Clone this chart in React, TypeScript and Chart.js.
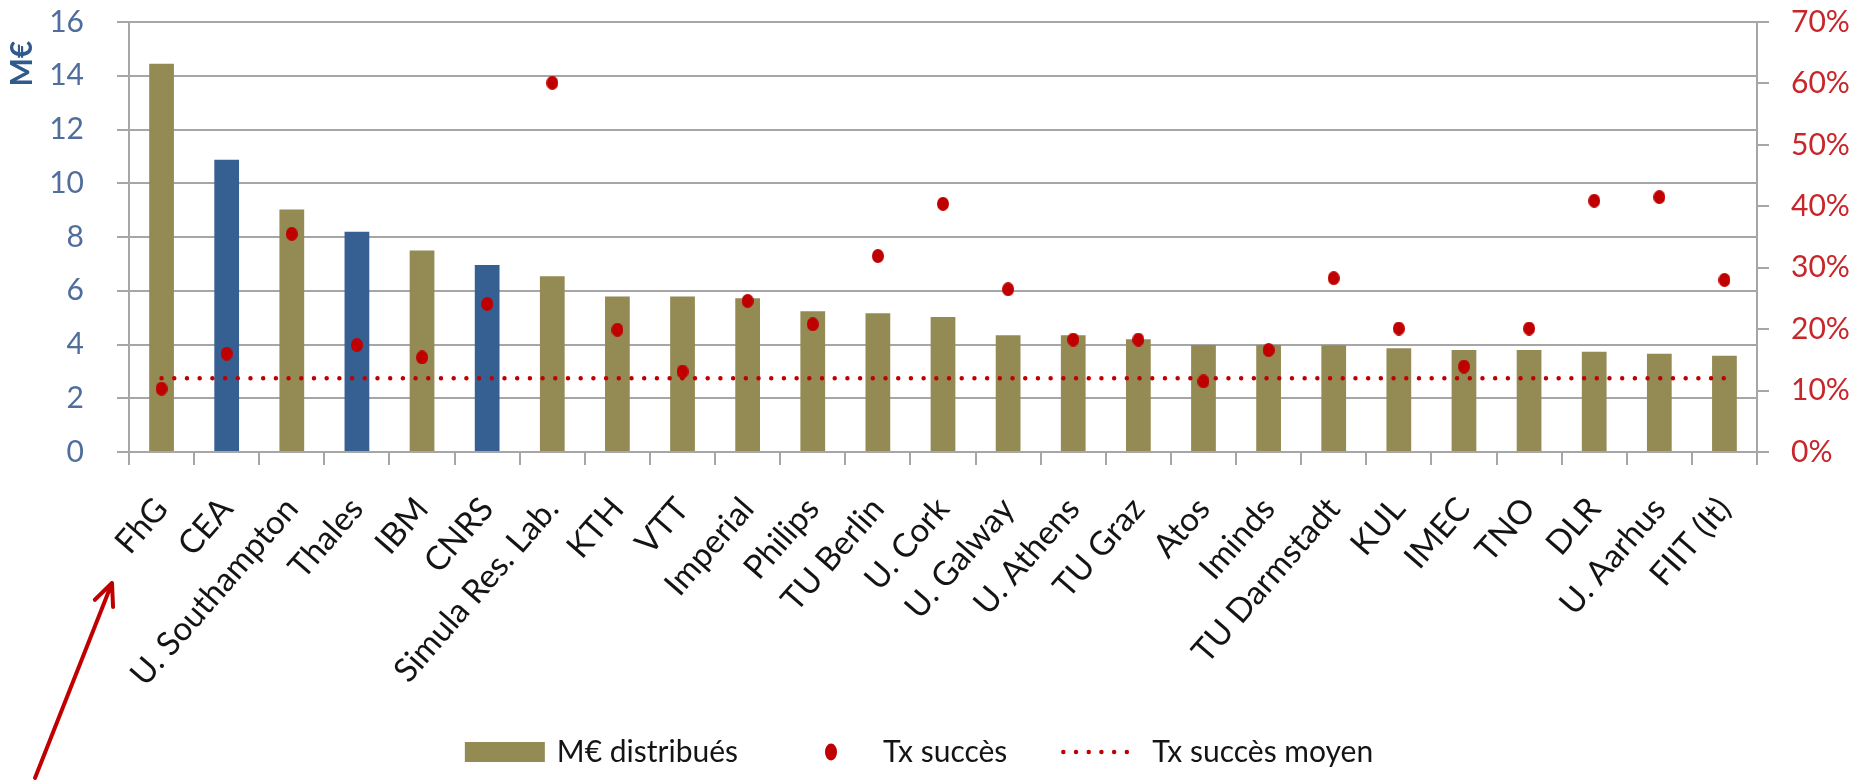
import React, { useEffect, useRef } from 'react';
import { Chart, registerables } from 'chart.js';

Chart.register(...registerables);

// ---------- data ----------
const categories = [
  'FhG', 'CEA', 'U. Southampton', 'Thales', 'IBM', 'CNRS', 'Simula Res. Lab.', 'KTH', 'VTT',
  'Imperial', 'Philips', 'TU Berlin', 'U. Cork', 'U. Galway', 'U. Athens', 'TU Graz', 'Atos',
  'Iminds', 'TU Darmstadt', 'KUL', 'IMEC', 'TNO', 'DLR', 'U. Aarhus', 'FIIT (It)',
];
const fundsMEur = [
  14.45, 10.87, 9.02, 8.2, 7.5, 6.96, 6.54, 5.79, 5.79,
  5.72, 5.24, 5.16, 5.02, 4.34, 4.34, 4.2, 3.98,
  3.98, 3.97, 3.86, 3.8, 3.8, 3.73, 3.66, 3.58,
];
const successRatePct = [
  10.3, 16.0, 35.5, 17.4, 15.4, 24.1, 60.1, 19.9, 13.1,
  24.6, 20.8, 31.9, 40.4, 26.5, 18.3, 18.3, 11.5,
  16.6, 28.3, 20.1, 13.9, 20.1, 40.9, 41.5, 28.0,
];
const averageSuccessRatePct = 12.0;
const highlightedOrgs = ['CEA', 'Thales', 'CNRS'];

const leftAxisMax = 16;
const leftAxisStep = 2;
const rightAxisMax = 70;
const rightAxisStep = 10;

const seriesLabels = ['M€ distribués', 'Tx succès', 'Tx succès moyen'];
const leftAxisTitle = 'M€';

// ---------- styles ----------
const OLIVE = '#948A54';
const BLUE = '#376092';
const RED = '#C00000';
const GRID = '#A6A6A6';
const LEFT_TICK = '#4F6E9C';
const TITLE_BLUE = '#2F5A8C';
const RIGHT_TICK = '#C8262A';
const FONT = 'Lato';

function makeEllipse(w: number, h: number, color: string): HTMLCanvasElement {
  const c = document.createElement('canvas');
  c.width = w;
  c.height = h;
  const g = c.getContext('2d')!;
  g.fillStyle = color;
  g.beginPath();
  g.ellipse(w / 2, h / 2, w / 2, h / 2, 0, 0, Math.PI * 2);
  g.fill();
  return c;
}

const legendPlugin = {
  id: 'customLegend',
  afterDraw(chart: any) {
    const ctx = chart.ctx as CanvasRenderingContext2D;
    const ds = chart.data.datasets;
    const iconW = 80;
    const textGap = 12;
    const spacing = 53;
    ctx.save();
    ctx.font = `30px ${FONT}`;
    const widths = ds.map((d: any) => ctx.measureText(d.label).width);
    const total = widths.reduce((a: number, w: number) => a + iconW + textGap + w, 0) + spacing * (ds.length - 1);
    let x = chart.width / 2 - total / 2 - 6;
    const cy = chart.height - 29;
    ds.forEach((d: any, i: number) => {
      if (d.legendKind === 'box') {
        ctx.fillStyle = OLIVE;
        ctx.fillRect(x, cy - 10, iconW, 20);
      } else if (d.legendKind === 'dot') {
        ctx.fillStyle = d.borderColor;
        ctx.beginPath();
        ctx.ellipse(x + iconW / 2, cy, 6, 8.5, 0, 0, Math.PI * 2);
        ctx.fill();
      } else {
        ctx.strokeStyle = d.borderColor;
        ctx.lineWidth = d.borderWidth;
        ctx.lineCap = 'round';
        ctx.setLineDash(d.borderDash);
        ctx.beginPath();
        ctx.moveTo(x + 3, cy);
        ctx.lineTo(x + iconW - 2, cy);
        ctx.stroke();
        ctx.setLineDash([]);
      }
      ctx.fillStyle = '#141414';
      ctx.textBaseline = 'middle';
      ctx.textAlign = 'left';
      ctx.fillText(d.label, x + iconW + textGap, cy);
      x += iconW + textGap + widths[i] + spacing;
    });
    ctx.restore();
  },
};

const arrowPlugin = {
  id: 'arrowNote',
  afterDraw(chart: any) {
    const ctx = chart.ctx as CanvasRenderingContext2D;
    const area = chart.chartArea;
    const tipX = area.left - 17;
    const tipY = area.bottom + 131;
    const tailX = area.left - 94;
    const tailY = chart.height - 3;
    const ang = Math.atan2(tipY - tailY, tipX - tailX);
    const wing = 24;
    const spread = 0.42;
    ctx.save();
    ctx.strokeStyle = RED;
    ctx.lineWidth = 4;
    ctx.lineCap = 'round';
    ctx.lineJoin = 'round';
    ctx.beginPath();
    ctx.moveTo(tailX, tailY);
    ctx.lineTo(tipX, tipY);
    ctx.moveTo(tipX - wing * Math.cos(ang - spread), tipY - wing * Math.sin(ang - spread));
    ctx.lineTo(tipX, tipY);
    ctx.lineTo(tipX - wing * Math.cos(ang + spread), tipY - wing * Math.sin(ang + spread));
    ctx.stroke();
    ctx.restore();
  },
};

export default function App() {
  const ref = useRef<HTMLCanvasElement | null>(null);

  useEffect(() => {
    document.body.style.margin = '0';
    const canvas = ref.current;
    if (!canvas) return;
    const dot = makeEllipse(12, 14, RED);
    const chart = new Chart(canvas, {
      type: 'bar',
      data: {
        labels: categories,
        datasets: [
          {
            type: 'bar',
            label: seriesLabels[0],
            data: fundsMEur,
            yAxisID: 'y',
            backgroundColor: categories.map((c) => (highlightedOrgs.includes(c) ? BLUE : OLIVE)),
            barPercentage: 0.38,
            categoryPercentage: 1,
            order: 3,
            legendKind: 'box',
          } as any,
          {
            type: 'line',
            label: seriesLabels[1],
            data: successRatePct,
            yAxisID: 'y1',
            showLine: false,
            pointStyle: dot,
            pointRadius: 7,
            backgroundColor: RED,
            borderColor: RED,
            order: 1,
            legendKind: 'dot',
          } as any,
          {
            type: 'line',
            label: seriesLabels[2],
            data: categories.map(() => averageSuccessRatePct),
            yAxisID: 'y1',
            borderColor: RED,
            borderWidth: 4.5,
            borderDash: [0.001, 12.7],
            borderCapStyle: 'round',
            pointRadius: 0,
            fill: false,
            order: 2,
            legendKind: 'line',
          } as any,
        ],
      },
      options: {
        responsive: false,
        maintainAspectRatio: false,
        animation: false,
        events: [],
        layout: { padding: { top: 22, left: 0, right: 0, bottom: 0 } },
        plugins: { legend: { display: false }, tooltip: { enabled: false } },
        scales: {
          x: {
            grid: { display: true, drawOnChartArea: false, drawTicks: true, tickLength: 13, color: GRID, lineWidth: 2, offset: true },
            border: { display: true, color: GRID, width: 2 },
            ticks: {
              autoSkip: false,
              minRotation: 49,
              maxRotation: 49,
              padding: 25,
              color: '#141414',
              font: { family: FONT, size: 33 },
            },
            afterFit: (s: any) => { s.height = 329; },
          },
          y: {
            position: 'left',
            min: 0,
            max: leftAxisMax,
            ticks: { stepSize: leftAxisStep, padding: 33, color: LEFT_TICK, font: { family: FONT, size: 30 } },
            grid: { color: GRID, lineWidth: 2, drawTicks: true, tickLength: 12 },
            border: { display: true, color: GRID, width: 2 },
            title: {
              display: true,
              text: leftAxisTitle + '\u2002\u2009',
              align: 'end',
              color: TITLE_BLUE,
              font: { family: FONT, size: 30, weight: 'bold' },
              padding: { top: 4, bottom: 0 },
            },
            afterFit: (s: any) => { s.width = 129; s.paddingTop = 0; s.paddingBottom = 0; },
          },
          y1: {
            position: 'right',
            min: 0,
            max: rightAxisMax,
            ticks: {
              stepSize: rightAxisStep,
              padding: 22,
              color: RIGHT_TICK,
              font: { family: FONT, size: 30 },
              callback: (v: any) => `${v}%`,
            },
            grid: { drawOnChartArea: false, drawTicks: true, tickLength: 12, color: GRID, lineWidth: 2 },
            border: { display: true, color: GRID, width: 2 },
            afterFit: (s: any) => { s.width = 93; s.paddingTop = 0; s.paddingBottom = 0; },
          },
        },
      } as any,
      plugins: [legendPlugin, arrowPlugin],
    });
    return () => chart.destroy();
  }, []);

  return (
    <div style={{ width: 1850, height: 781, background: '#fff' }}>
      <canvas ref={ref} width={1850} height={781} style={{ width: 1850, height: 781, display: 'block' }} />
    </div>
  );
}
